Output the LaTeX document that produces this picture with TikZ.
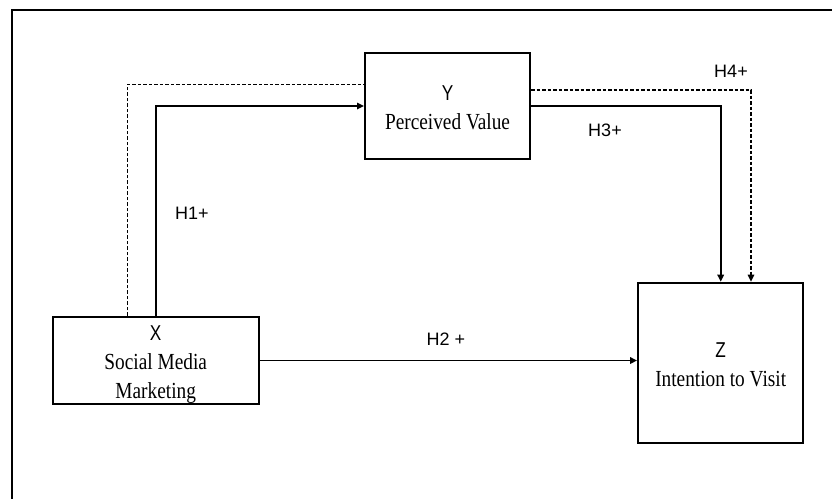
\documentclass[tikz,border=0pt]{standalone}
\usepackage{fontspec}
\setmainfont[FakeStretch=0.84]{Liberation Serif}
\newfontfamily\labfont{Liberation Sans}
\newfontfamily\letfont[FakeStretch=0.8]{Liberation Sans}
\usetikzlibrary{arrows.meta}
\begin{document}
\begin{tikzpicture}[x=1pt,y=-1pt,
 box/.style={draw, line width=2pt, inner sep=0pt},
 txt/.style={inner sep=0pt, align=center, font=\fontsize{23}{29}\selectfont},
 lab/.style={inner sep=0pt, font=\labfont\fontsize{18}{20}\selectfont},
 conn/.style={line width=1.6pt},
 arr/.style={-{Triangle[length=7pt,width=6.5pt]}},
 dsh/.style={line width=1.5pt, dash pattern=on 3.5pt off 2pt}]
\useasboundingbox (0,0) rectangle (832,498);
\draw[line width=2.2pt] (12.3,502) -- (12.3,10) -- (836,10);
% boxes
\node[box, minimum width=165pt, minimum height=106.6pt] (Y) at (447.5,106) {};
\node[box, minimum width=206pt, minimum height=87.3pt] (X) at (155.7,360.5) {};
\node[box, minimum width=165.3pt, minimum height=160.6pt] (Z) at (720.7,363) {};
% texts
\node[txt] (xt) at (155.7,364.2) {{\letfont\fontsize{21.5}{29}\selectfont X}\\Social Media\\Marketing};
\node[txt] (yt) at (447.5,107.4) {{\letfont\fontsize{21.5}{29}\selectfont Y}\\Perceived Value};
\node[txt] (zt) at (720.7,364.9) {{\letfont\fontsize{21.5}{29}\selectfont Z}\\Intention to Visit};
% connectors
\coordinate (dl) at (127.3,84.3);
\coordinate (dr) at (751,90);
\draw[dsh] (X.north -| dl) |- (Y.west |- dl);
\draw[dsh,arr] (Y.east |- dr) -| (Z.north -| dr);
\draw[conn,arr] (X.north) |- (Y.west);
\draw[conn,arr] (Y.east) -| (Z.north);
\draw[conn,arr] (X.east) -- (X.east -| Z.west);
% labels
\node[lab] (h1) at (192,213.5) {H1+};
\node[lab] (h2) at (446,339.5) {H2 +};
\node[lab] (h3) at (605,130) {H3+};
\node[lab] (h4) at (731,71.5) {H4+};
\end{tikzpicture}
\end{document}
